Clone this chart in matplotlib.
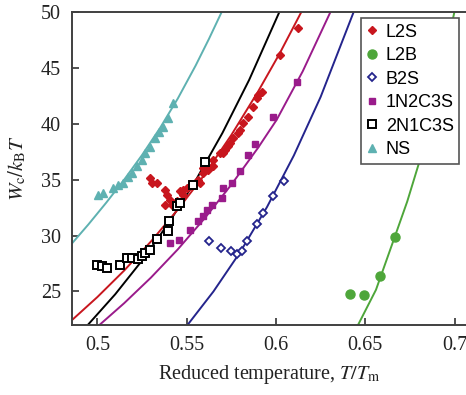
import matplotlib
matplotlib.use("Agg")
import matplotlib.pyplot as plt

plt.rcParams['font.family'] = ['Liberation Serif', 'DejaVu Serif']
plt.rcParams['mathtext.fontset'] = 'stix'

# ---------------- data ----------------
# L2S (red filled diamonds)
l2s_x = [0.5294, 0.5304, 0.5332, 0.5379, 0.5388, 0.5406, 0.5379, 0.5416, 0.5444,
         0.5462, 0.5481, 0.5481, 0.5500, 0.5518, 0.5537, 0.5565, 0.5574, 0.5593,
         0.5593, 0.5621, 0.5649, 0.5649, 0.5686, 0.5705, 0.5714, 0.5733, 0.5742,
         0.5761, 0.5789, 0.5798, 0.5817, 0.5845, 0.5873, 0.5892, 0.5901, 0.5920,
         0.6022, 0.6126]
l2s_y = [35.15, 34.70, 34.70, 34.10, 33.66, 33.20, 32.77, 32.77, 33.06,
         33.96, 34.10, 33.66, 34.26, 34.40, 34.55, 35.00, 34.70, 35.60,
         36.04, 35.90, 36.19, 36.79, 37.38, 37.38, 37.68, 37.97, 38.28,
         38.72, 39.17, 39.46, 40.06, 40.65, 41.54, 42.30, 42.59, 42.88,
         46.16, 48.54]
# L2B (green circles)
l2b_x = [0.6414, 0.6494, 0.6582, 0.6665]
l2b_y = [24.80, 24.64, 26.37, 29.87]
# B2S (navy open diamonds)
b2s_x = [0.5627, 0.5692, 0.5748, 0.5780, 0.5808, 0.5836, 0.5892, 0.5925, 0.5985, 0.6045]
b2s_y = [29.49, 28.90, 28.60, 28.39, 28.60, 29.49, 31.07, 32.03, 33.51, 34.85]
# 1N2C3S (magenta filled squares)
n1_x = [0.5406, 0.5459, 0.5518, 0.5565, 0.5593, 0.5612, 0.5640, 0.5696, 0.5705,
        0.5752, 0.5798, 0.5845, 0.5885, 0.5983, 0.6116]
n1_y = [29.35, 29.64, 30.54, 31.28, 31.73, 32.32, 32.77, 33.37, 34.26,
        34.70, 35.80, 37.23, 38.20, 40.65, 43.78]
# 2N1C3S (black open squares)
n2_x = [0.4996, 0.5024, 0.5052, 0.5127, 0.5164, 0.5192, 0.5229, 0.5248, 0.5267,
        0.5295, 0.5332, 0.5397, 0.5403, 0.5444, 0.5462, 0.5537, 0.5602]
n2_y = [27.41, 27.26, 27.12, 27.41, 28.00, 28.00, 27.86, 28.15, 28.45,
        28.75, 29.70, 30.38, 31.28, 32.62, 32.92, 34.55, 36.55]
# NS (cyan triangles)
ns_x = [0.5005, 0.5033, 0.5087, 0.5115, 0.5143, 0.5171, 0.5194, 0.5222, 0.5250,
        0.5267, 0.5295, 0.5323, 0.5345, 0.5367, 0.5395, 0.5423]
ns_y = [33.66, 33.80, 34.30, 34.50, 34.70, 35.20, 35.60, 36.20, 36.80,
        37.40, 37.90, 38.70, 39.30, 39.70, 40.50, 41.90]

# fitted curves
l2s_fit_x = [0.4862, 0.500, 0.515, 0.530, 0.545, 0.5593, 0.575, 0.590, 0.602, 0.6142]
l2s_fit_y = [22.50, 24.50, 26.87, 29.47, 32.32, 35.30, 38.99, 42.89, 46.27, 50.00]
l2b_fit_x = [0.6461, 0.6560, 0.6665, 0.6735, 0.6802, 0.6900, 0.6999]
l2b_fit_y = [22.05, 25.15, 29.88, 33.05, 36.55, 42.63, 50.00]
b2s_fit_x = [0.5507, 0.565, 0.580, 0.595, 0.610, 0.625, 0.6435]
b2s_fit_y = [22.05, 25.00, 28.53, 32.56, 37.16, 42.40, 50.00]
n1_fit_x = [0.5015, 0.515, 0.530, 0.545, 0.560, 0.575, 0.590, 0.6004, 0.615, 0.6305]
n1_fit_y = [22.05, 23.95, 26.24, 28.76, 31.53, 34.55, 37.86, 40.36, 44.70, 50.00]
n2_fit_x = [0.4949, 0.510, 0.525, 0.540, 0.555, 0.570, 0.585, 0.6019]
n2_fit_y = [22.05, 24.75, 27.76, 31.14, 34.92, 39.17, 43.93, 50.00]
ns_fit_x = [0.4858, 0.4950, 0.5050, 0.5150, 0.5250, 0.5350, 0.5450, 0.5550, 0.5625, 0.5696]
ns_fit_y = [29.30, 31.00, 32.95, 35.00, 37.20, 39.60, 42.25, 45.20, 47.60, 50.00]

x_ticks = [0.5, 0.55, 0.6, 0.65, 0.7]
x_tick_labels = ['0.5', '0.55', '0.6', '0.65', '0.7']
y_ticks = [25, 30, 35, 40, 45, 50]

# ---------------- style ----------------
c_red = '#c8161e'
c_green = '#4ea63a'
c_navy = '#24248c'
c_mag = '#9a1b8b'
c_black = '#000000'
c_cyan = '#5eb1b1'

W, H = 466, 395
fig = plt.figure(figsize=(W / 100, H / 100), dpi=100)
ax = fig.add_axes([72 / W, (H - 325) / H, (W - 72) / W, (325 - 12) / H])

lw = 1.4
ax.plot(ns_fit_x, ns_fit_y, color=c_cyan, lw=lw, zorder=2)
ax.plot(n2_fit_x, n2_fit_y, color=c_black, lw=lw, zorder=2)
ax.plot(l2s_fit_x, l2s_fit_y, color=c_red, lw=lw, zorder=2)
ax.plot(n1_fit_x, n1_fit_y, color=c_mag, lw=lw, zorder=2)
ax.plot(b2s_fit_x, b2s_fit_y, color=c_navy, lw=lw, zorder=2)
ax.plot(l2b_fit_x, l2b_fit_y, color=c_green, lw=lw, zorder=2)

ax.plot(l2s_x, l2s_y, ls='none', marker='D', ms=4.2, color=c_red, mec=c_red, label='L2S', zorder=4)
ax.plot(l2b_x, l2b_y, ls='none', marker='o', ms=6.5, color=c_green, mec=c_green, label='L2B', zorder=4)
ax.plot(b2s_x, b2s_y, ls='none', marker='D', ms=4.2, mfc='white', mec=c_navy, mew=1.3, label='B2S', zorder=4)
ax.plot(n1_x, n1_y, ls='none', marker='s', ms=4.8, color=c_mag, mec=c_mag, label='1N2C3S', zorder=4)
ax.plot(n2_x, n2_y, ls='none', marker='s', ms=5.2, mfc='white', mec=c_black, mew=1.4, label='2N1C3S', zorder=5)
ax.plot(ns_x, ns_y, ls='none', marker='^', ms=6, color=c_cyan, mec=c_cyan, label='NS', zorder=4)

ax.set_xlim(0.4858, 0.7064)
ax.set_ylim(22.0, 50.0)
ax.set_xticks(x_ticks)
ax.set_xticklabels(x_tick_labels)
ax.set_yticks(y_ticks)
ax.tick_params(direction='in', length=5, width=1.2, labelsize=14.5, colors='#333333',
               labelcolor='#222222', pad=8)

for s in ['left', 'bottom', 'top']:
    ax.spines[s].set_color('#404040')
    ax.spines[s].set_linewidth(1.4)
ax.spines['right'].set_visible(False)

ax.set_xlabel('Reduced temperature, $T/T_\\mathrm{m}$', fontsize=14.5, color='#222222', labelpad=6)
ax.set_ylabel('$W_\\mathrm{c}/k_\\mathrm{B}T$', fontsize=15, color='#222222', labelpad=9)

leg = ax.legend(loc='upper left', bbox_to_anchor=(360.7 / W, 1 - 18.3 / H),
                bbox_transform=fig.transFigure, borderaxespad=0,
                prop={'family': 'Liberation Sans', 'size': 13.0},
                frameon=True, fancybox=False, framealpha=1, edgecolor='#555555',
                handlelength=0.65, handletextpad=0.45, borderpad=0.3,
                labelspacing=0.36, markerscale=1.0)
leg.get_frame().set_linewidth(1.2)
leg.set_zorder(10)

fig.savefig('out.png', dpi=100)
